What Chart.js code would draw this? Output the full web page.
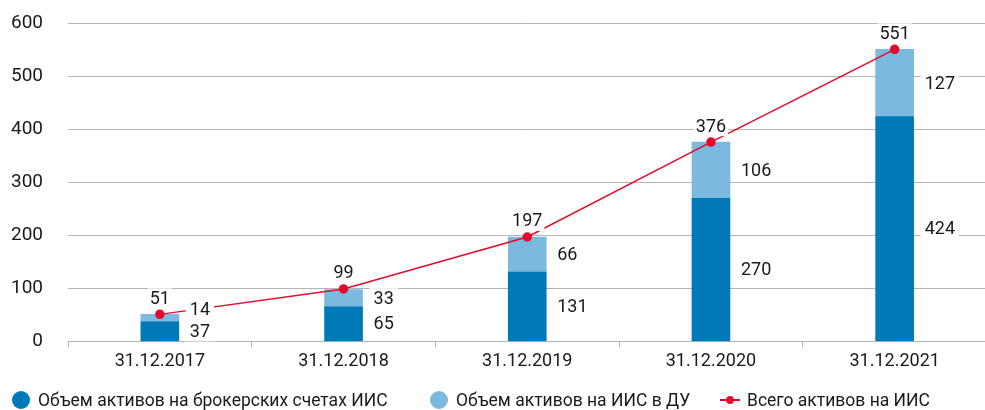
<!DOCTYPE html>
<html>
<head>
<meta charset="utf-8">
<script src="https://cdn.jsdelivr.net/npm/chart.js@4"></script>
<style>
    html, body { margin: 0; padding: 0; background: #fff; overflow: hidden; }
    #wrap { position: relative; width: 985px; height: 410px; overflow: hidden; }
    #chart { position: absolute; left: 0; top: 0; }
    .legend-item { position: absolute; top: 389px; height: 22px; display: flex; align-items: center;
        font-family: "Roboto", sans-serif; font-size: 17.5px; color: #1a1a1a; white-space: nowrap; }
    .dot { width: 18px; height: 18px; border-radius: 50%; margin-right: 8px; }
    .line-mark { position: relative; width: 20px; height: 2px; background: #e30a2c; margin-right: 7px; }
    .line-mark::after { content: ''; position: absolute; left: 6px; top: -3px; width: 8px; height: 8px; border-radius: 50%; background: #e30a2c; }
</style>
</head>
<body>
<div id="wrap">
    <canvas id="chart" width="992" height="430"></canvas>
    <div class="legend-item" style="left:12px"><span class="dot" style="background:#0079b8"></span>Объем активов на брокерских счетах ИИС</div>
    <div class="legend-item" style="left:430px"><span class="dot" style="background:#7cb9df"></span>Объем активов на ИИС в ДУ</div>
    <div class="legend-item" style="left:720px"><span class="line-mark"></span>Всего активов на ИИС</div>
</div>
<script>
const categories = ['31.12.2017', '31.12.2018', '31.12.2019', '31.12.2020', '31.12.2021'];
const brokerValues = [37, 65, 131, 270, 424];
const duValues = [14, 33, 66, 106, 127];
const totalValues = [51, 99, 197, 376, 551];
const yMin = 0;
const yMax = 600;
const yStep = 100;

const darkBlue = '#0079b8';
const lightBlue = '#7cb9df';
const red = '#e30a2c';
const gridColor = '#b4b4b4';
const labelFont = '18px "Roboto", sans-serif';

// wanted position of the plot area on the page
const plotTop = 23;
const plotBottom = 341;

// Draw value labels with a white box behind them
function drawLabel(ctx, text, x, y, align, pad) {
    ctx.font = labelFont;
    const w = ctx.measureText(text).width;
    const left = align === 'center' ? x - w / 2 : x;
    ctx.fillStyle = '#fff';
    ctx.fillRect(left - pad, y - 10, w + pad * 2, 20);
    ctx.fillStyle = '#1a1a1a';
    ctx.textAlign = 'left';
    ctx.textBaseline = 'middle';
    ctx.fillText(text, left, y + 1);
}

const valueLabels = {
    id: 'valueLabels',
    afterDatasetsDraw(chart) {
        const ctx = chart.ctx;
        const dark = chart.getDatasetMeta(0).data;
        const light = chart.getDatasetMeta(1).data;
        const points = chart.getDatasetMeta(2).data;
        ctx.save();
        dark.forEach((bar, i) => {
            const lb = light[i];
            const x = bar.x + bar.width / 2 + 11;
            const darkY = (bar.y + bar.base) / 2;
            let lightY = (lb.y + lb.base) / 2;
            if (darkY - lightY < 22) lightY = darkY - 22;
            drawLabel(ctx, String(brokerValues[i]), x, darkY, 'left', 4);
            drawLabel(ctx, String(duValues[i]), x, lightY, 'left', 4);
            const p = points[i];
            drawLabel(ctx, String(totalValues[i]), p.x, p.y - 16, 'center', 2);
        });
        ctx.restore();
    }
};

const canvas = document.getElementById('chart');
const ctx = canvas.getContext('2d');

const chart = new Chart(ctx, {
    type: 'bar',
    data: {
        labels: categories,
        datasets: [
            {
                label: 'Объем активов на брокерских счетах ИИС',
                data: brokerValues,
                backgroundColor: darkBlue,
                barThickness: 38,
                stack: 'iis',
                order: 1
            },
            {
                label: 'Объем активов на ИИС в ДУ',
                data: duValues,
                backgroundColor: lightBlue,
                barThickness: 38,
                stack: 'iis',
                order: 1
            },
            {
                type: 'line',
                label: 'Всего активов на ИИС',
                data: totalValues,
                borderColor: red,
                borderWidth: 1.5,
                backgroundColor: red,
                pointRadius: 4,
                pointHoverRadius: 4,
                tension: 0,
                stack: 'total',
                order: 0
            }
        ]
    },
    options: {
        responsive: false,
        animation: false,
        layout: { padding: { left: 0, right: 0, top: 0, bottom: 30 } },
        plugins: {
            legend: { display: false },
            tooltip: { enabled: false }
        },
        scales: {
            x: {
                stacked: true,
                afterFit: scale => { scale.height = 39; },
                border: { display: false },
                grid: {
                    offset: true,
                    drawOnChartArea: false,
                    drawTicks: true,
                    tickLength: 6,
                    color: gridColor
                },
                ticks: {
                    padding: 3,
                    color: '#1a1a1a',
                    font: { family: 'Roboto', size: 18 }
                }
            },
            y: {
                stacked: true,
                min: yMin,
                max: yMax,
                afterFit: scale => { scale.width = 68; },
                border: { display: false },
                grid: {
                    color: gridColor,
                    drawTicks: false
                },
                ticks: {
                    stepSize: yStep,
                    padding: 25,
                    color: '#1a1a1a',
                    font: { family: 'Roboto', size: 19 }
                }
            }
        }
    },
    plugins: [valueLabels]
});

// shift the canvas so the plot area lands where the reference has it
const shift = chart.chartArea.top - plotTop;
canvas.style.top = (-shift) + 'px';
chart.options.layout.padding.bottom = canvas.height - 39 - (plotBottom + shift);
chart.update();
</script>
</body>
</html>
